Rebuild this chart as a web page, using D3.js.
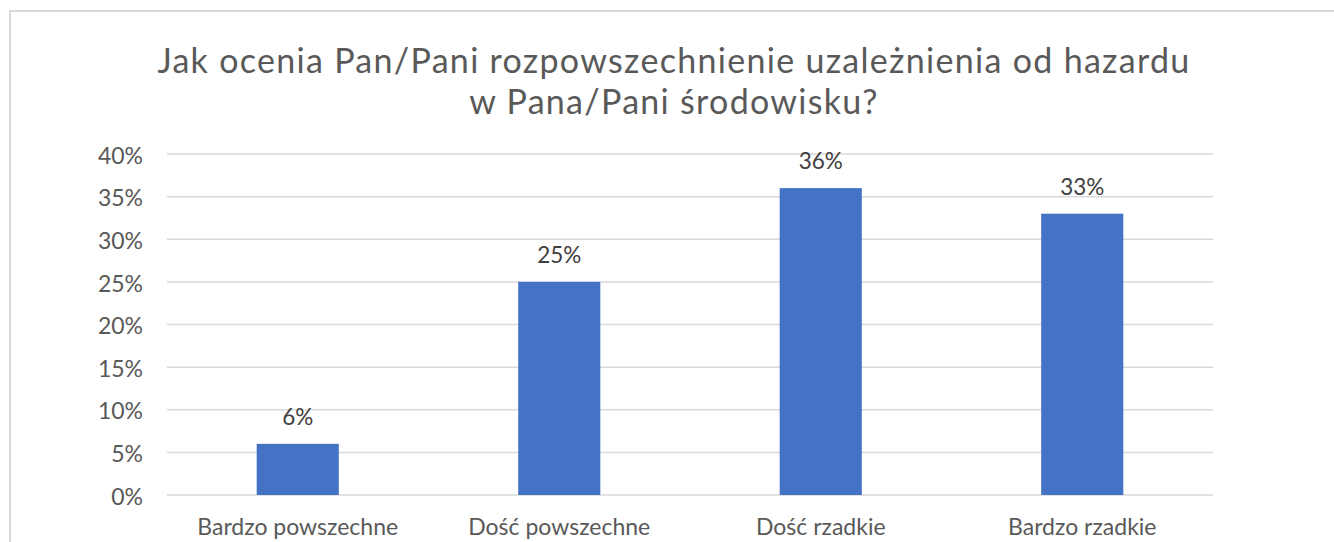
<!DOCTYPE html>
<html>
<head>
<meta charset="utf-8">
<script src="https://cdn.jsdelivr.net/npm/d3@7"></script>
<style>
  body { margin: 0; background: #fff; }
  svg text { font-family: Lato, sans-serif; }
</style>
</head>
<body>
<svg id="chart" width="1334" height="542"></svg>
<script>
// chart data
const categories = ["Bardzo powszechne", "Dość powszechne", "Dość rzadkie", "Bardzo rzadkie"];
const values = [6, 25, 36, 33];
const yTicks = [0, 5, 10, 15, 20, 25, 30, 35, 40];
const titleLines = ["Jak ocenia Pan/Pani rozpowszechnienie uzależnienia od hazardu", "w Pana/Pani środowisku?"];

const svg = d3.select("#chart");

// frame of the chart area (cropped on the right and bottom)
svg.append("path")
    .attr("d", "M10,542 V11 H1334")
    .attr("fill", "none")
    .attr("stroke", "#d9d9d9")
    .attr("stroke-width", 2);

const plot = { left: 167, right: 1213, top: 154, bottom: 495 };

const x = d3.scaleBand()
    .domain(categories)
    .range([plot.left, plot.right]);

const y = d3.scaleLinear()
    .domain([0, 40])
    .range([plot.bottom, plot.top]);

// gridlines
svg.append("g")
    .selectAll("line")
    .data(yTicks)
    .join("line")
    .attr("x1", plot.left)
    .attr("x2", plot.right)
    .attr("y1", d => y(d))
    .attr("y2", d => y(d))
    .attr("stroke", "#d9d9d9")
    .attr("stroke-width", 1.5);

// y axis labels
const yAxis = svg.append("g")
    .attr("transform", `translate(${plot.left}, 0)`)
    .call(d3.axisLeft(y).tickValues(yTicks).tickFormat(d => d + "%").tickSize(0).tickPadding(24));
yAxis.select(".domain").remove();
yAxis.selectAll("text")
    .attr("fill", "#595959")
    .attr("dy", "0.4em")
    .style("font-size", "23px");

// bars
const barWidth = x.bandwidth() * 0.314;
svg.append("g")
    .selectAll("rect")
    .data(values)
    .join("rect")
    .attr("x", (d, i) => x(categories[i]) + (x.bandwidth() - barWidth) / 2)
    .attr("y", d => y(d))
    .attr("width", barWidth)
    .attr("height", d => plot.bottom - y(d))
    .attr("fill", "#4472c4");

// value labels
svg.append("g")
    .selectAll("text")
    .data(values)
    .join("text")
    .attr("x", (d, i) => x(categories[i]) + x.bandwidth() / 2)
    .attr("y", d => y(d) - 19)
    .attr("text-anchor", "middle")
    .attr("fill", "#404040")
    .style("font-size", "22.5px")
    .text(d => d + "%");

// x axis labels
const xAxis = svg.append("g")
    .attr("transform", `translate(0, ${plot.bottom})`)
    .call(d3.axisBottom(x).tickSize(0).tickPadding(24));
xAxis.select(".domain").remove();
xAxis.selectAll("text")
    .attr("fill", "#595959")
    .style("font-size", "23px");

// title, one text element with a tspan per line
svg.append("text")
    .attr("text-anchor", "middle")
    .attr("fill", "#595959")
    .style("font-size", "34px")
    .style("letter-spacing", "1.3px")
    .selectAll("tspan")
    .data(titleLines)
    .join("tspan")
    .attr("x", 674)
    .attr("y", (d, i) => 73 + i * 41)
    .text(d => d);
</script>
</body>
</html>
